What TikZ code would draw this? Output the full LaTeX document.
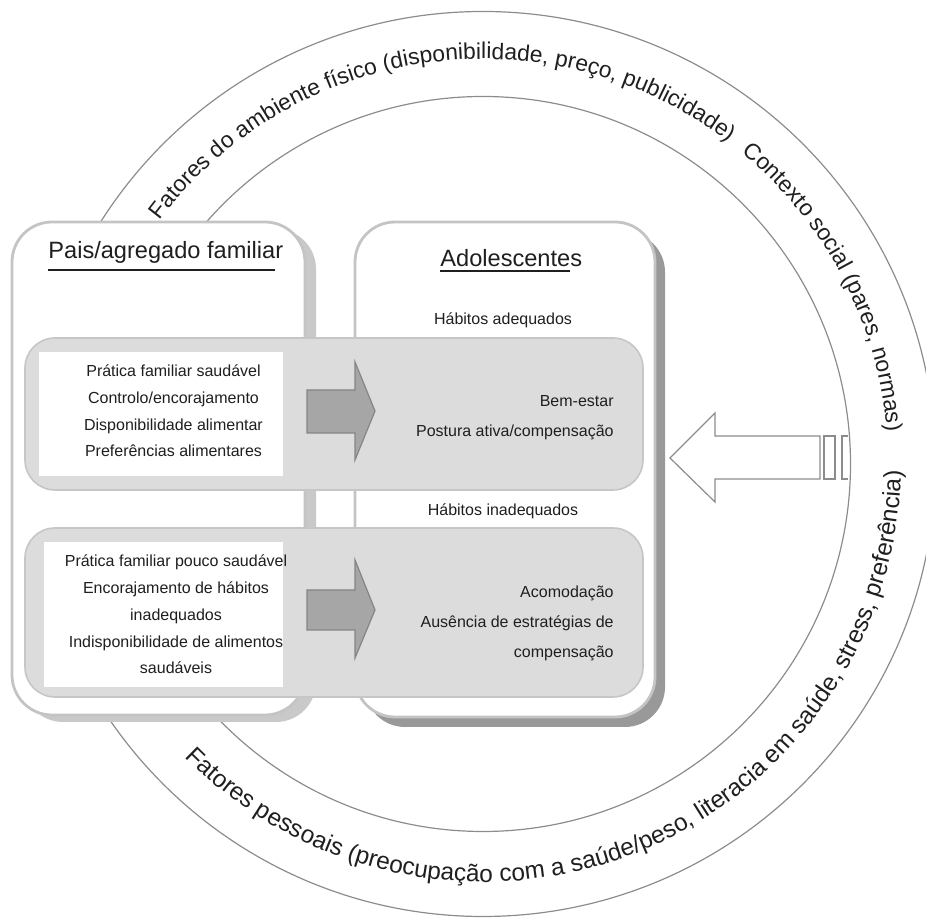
\documentclass[tikz,border=0pt]{standalone}
\usepackage{fontspec}
\setmainfont{Liberation Sans}
\usetikzlibrary{decorations.text,shadows}

\definecolor{ringgray}{HTML}{8C8C8C}
\definecolor{boxline}{HTML}{C4C4C4}
\definecolor{bandfill}{HTML}{DCDCDC}
\definecolor{bandline}{HTML}{C6C6C6}
\definecolor{lshade}{HTML}{C9C9C9}
\definecolor{dshade}{HTML}{999999}
\definecolor{arrowfill}{HTML}{A6A6A6}
\definecolor{arrowline}{HTML}{858585}
\definecolor{txt}{HTML}{1F1F1F}

\newsavebox{\ulbox}
\newcommand{\ulbar}[3]{\sbox{\ulbox}{#1}\rlap{\rule[-#2]{\wd\ulbox}{#3}}\usebox{\ulbox}}
\newcommand{\boxfont}{\fontsize{8}{13.4}\selectfont}
\newcommand{\ringfont}{\fontsize{11.4}{12}\selectfont}
\newcommand{\ringfontB}{\fontsize{12.2}{12}\selectfont}

\begin{document}
\begin{tikzpicture}[x=0.5pt,y=0.5pt,
	ring/.style={draw=ringgray,line width=0.6pt},
	bigbox/.style={draw=boxline,line width=1.4pt,fill=white,rounded corners=20pt,inner sep=0pt},
	band/.style={draw=bandline,line width=0.8pt,fill=bandfill,rounded corners=15pt,inner sep=0pt},
	listbox/.style={fill=white,inner sep=0pt},
	grayarrow/.style={fill=arrowfill,draw=arrowline,line width=0.6pt},
	openarrow/.style={fill=white,draw=ringgray,line width=0.6pt},
	ringtext/.style={decorate,decoration={text along path,text color=txt,text={#1}}}
]
	\path[use as bounding box,clip] (0,0) rectangle (926,919);
	\coordinate (ctr) at (483,455);
	\draw[ring] (ctr) circle[radius=452.5];
	\draw[ring] (ctr) circle[radius=367.5];

	\path[ringtext={|\ringfont|Fatores do ambiente físico (disponibilidade, preço, publicidade)}]
		([shift={(143:405)}]ctr) arc[start angle=143,end angle=40,radius=405];
	\path[ringtext={|\ringfont|Contexto social (pares, normas)}]
		([shift={(50.3:405)}]ctr) arc[start angle=50.3,end angle=-20,radius=405];
	\path[ringtext={|\ringfontB|Fatores pessoais (preocupação com a saúde/peso, literacia em saúde, stress, preferência)}]
		([shift={(224.5:418)}]ctr) arc[start angle=224.5,end angle=370,radius=418];

	\node[bigbox,drop shadow={shadow xshift=5.5pt,shadow yshift=-3.5pt,fill=lshade,opacity=1},
		minimum width=146.5pt,minimum height=246.5pt] (pais) at (158.5,450.5) {};
	\node[bigbox,drop shadow={shadow xshift=5pt,shadow yshift=-5pt,fill=dshade,opacity=1},
		minimum width=150pt,minimum height=247.5pt] (adol) at (505,449.5) {};

	\node[band,minimum width=309pt,minimum height=76pt] (bandA) at (334,505) {};
	\node[band,minimum width=309pt,minimum height=84.5pt] (bandB) at (334,306.5) {};
	\node[listbox,minimum width=122pt,minimum height=62pt] (famA) at (161,505) {};
	\node[listbox,minimum width=119.5pt,minimum height=72.5pt] (famB) at (163.5,304.5) {};

	\draw[grayarrow] (307,529) -- (355,529) -- (355,557) -- (375,508) -- (355,459) -- (355,486) -- (307,486) -- cycle;
	\draw[grayarrow] (307,329) -- (355,329) -- (355,359) -- (375,309) -- (355,261) -- (355,289) -- (307,289) -- cycle;

	\draw[openarrow] (670,461) -- (715,506) -- (715,483) -- (820,483) -- (820,440) -- (715,440) -- (715,417) -- cycle;
	\draw[openarrow] (824,440) rectangle (835,483);
	\draw[openarrow] (848,483) -- (842,483) -- (842,440) -- (848,440);

	\begin{scope}[every node/.style={text=txt,inner sep=0pt}]
		\node[anchor=base west,font=\fontsize{11.8}{14}\selectfont] (paisT) at (48,660) {\ulbar{Pais/agregado familia}{6.2pt}{1.4pt}r};
		\node[anchor=base west,font=\fontsize{11.8}{14}\selectfont] (adolT) at (440,652) {\ulbar{Adolescente}{2.5pt}{1pt}s};
		\node[anchor=base,font=\boxfont] (habA) at (503,594) {Hábitos adequados};
		\node[anchor=base,font=\boxfont] (habB) at (503,403) {Hábitos inadequados};
		\node[anchor=base,align=center,font=\boxfont] (listA) at (173.5,462) {Prática familiar saudável\\Controlo/encorajamento\\Disponibilidade alimentar\\Preferências alimentares};
		\node[anchor=base,align=center,font=\boxfont] (listB) at (176,245) {Prática familiar pouco saudável\\Encorajamento de hábitos\\inadequados\\Indisponibilidade de alimentos\\saudáveis};
		\node[anchor=base east,align=right,font=\fontsize{8}{15}\selectfont] (effA) at (614,482) {Bem-estar\\Postura ativa/compensação};
		\node[anchor=base east,align=right,font=\fontsize{8}{15.2}\selectfont] (effB) at (614,261) {Acomodação\\Ausência de estratégias de\\compensação};
	\end{scope}
\end{tikzpicture}
\end{document}
